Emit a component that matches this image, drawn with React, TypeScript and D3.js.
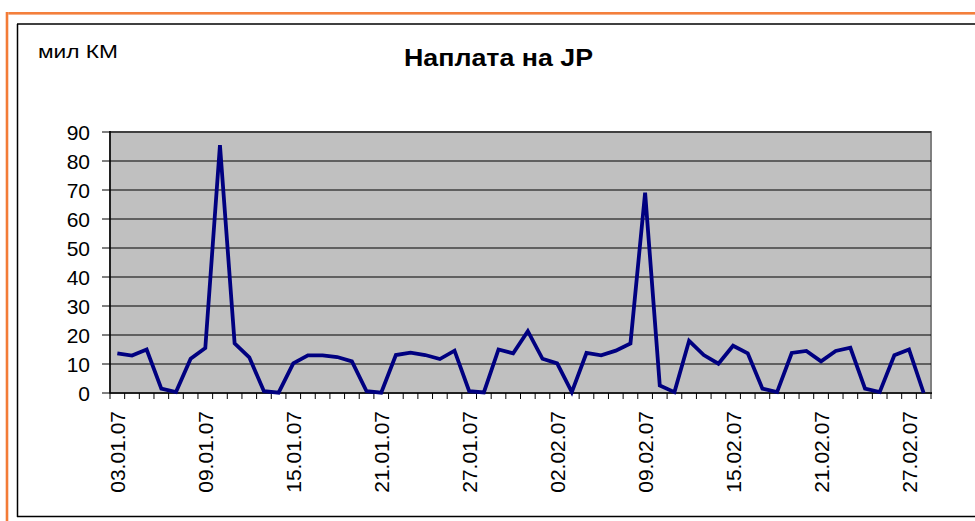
import React from "react";
import * as d3 from "d3";

const dates: string[] = [
  "03.01.07", "04.01.07", "05.01.07", "06.01.07", "07.01.07", "08.01.07",
  "09.01.07", "10.01.07", "11.01.07", "12.01.07", "13.01.07", "14.01.07",
  "15.01.07", "16.01.07", "17.01.07", "18.01.07", "19.01.07", "20.01.07",
  "21.01.07", "22.01.07", "23.01.07", "24.01.07", "25.01.07", "26.01.07",
  "27.01.07", "28.01.07", "29.01.07", "30.01.07", "31.01.07", "01.02.07",
  "02.02.07", "03.02.07", "05.02.07", "06.02.07", "07.02.07", "08.02.07",
  "09.02.07", "10.02.07", "11.02.07", "12.02.07", "13.02.07", "14.02.07",
  "15.02.07", "16.02.07", "17.02.07", "18.02.07", "19.02.07", "20.02.07",
  "21.02.07", "22.02.07", "23.02.07", "24.02.07", "25.02.07", "26.02.07",
  "27.02.07", "28.02.07",
];

const values: number[] = [
  13.7, 12.9, 15.0, 1.5, 0.3, 11.8, 15.5, 85.5, 17.1, 12.3, 0.6, 0.1,
  10.2, 13.0, 13.0, 12.4, 10.9, 0.6, 0.1, 13.1, 13.9, 13.1, 11.7, 14.6,
  0.6, 0.2, 15.0, 13.7, 21.3, 11.8, 10.2, 0.3, 13.8, 13.0, 14.6, 17.1,
  69.1, 2.6, 0.3, 18.0, 13.1, 10.1, 16.3, 13.7, 1.5, 0.3, 13.8, 14.5,
  10.9, 14.5, 15.6, 1.5, 0.3, 13.0, 15.0, 0.0,
];

const yTicks: number[] = [0, 10, 20, 30, 40, 50, 60, 70, 80, 90];
const title = "Наплата на JP";
const yUnit = "мил КМ";

const W = 975;
const H = 521;
const plot = { left: 110, right: 931, top: 132, bottom: 393 };
const font = "'Liberation Sans', Arial, sans-serif";

export default function App() {
  const x = d3
    .scaleBand<string>()
    .domain(dates)
    .range([plot.left, plot.right])
    .padding(0);
  const y = d3.scaleLinear().domain([0, 90]).range([plot.bottom, plot.top]);

  const line = d3
    .line<number>()
    .x((_, i) => (x(dates[i]) as number) + x.bandwidth() / 2)
    .y((d) => y(d));

  const boundaries = d3.range(dates.length + 1).map(
    (i) => plot.left + i * x.bandwidth()
  );

  return (
    <svg
      width={W}
      height={H}
      style={{ position: "absolute", left: 0, top: 0, background: "#fff" }}
      fontFamily={font}
    >
      {/* outer orange frame */}
      <line x1={6} y1={13.5} x2={W} y2={13.5} stroke="#f5b08a" strokeWidth={3} />
      <line x1={6} y1={13} x2={W} y2={13} stroke="#f36f21" strokeWidth={1.6} />
      <line x1={7} y1={12} x2={7} y2={H} stroke="#f5b08a" strokeWidth={3} />
      <line x1={7} y1={12} x2={7} y2={H} stroke="#f36f21" strokeWidth={1.6} />
      {/* inner black frame */}
      <line x1={17} y1={24} x2={W} y2={24} stroke="#000" strokeWidth={1.5} />
      <line x1={17.5} y1={24} x2={17.5} y2={517} stroke="#000" strokeWidth={1.5} />
      <line x1={17} y1={516.5} x2={W} y2={516.5} stroke="#000" strokeWidth={1.5} />

      <text
        x={404}
        y={66}
        fontSize={24}
        fontWeight="bold"
        textLength={189}
        lengthAdjust="spacingAndGlyphs"
      >
        {title}
      </text>
      <text x={38} y={58} fontSize={19} textLength={80} lengthAdjust="spacingAndGlyphs">
        {yUnit}
      </text>

      {/* plot area */}
      <rect
        x={plot.left}
        y={plot.top}
        width={plot.right - plot.left}
        height={plot.bottom - plot.top}
        fill="#c0c0c0"
        stroke="#808080"
        strokeWidth={2}
      />
      {yTicks.map((t) => (
        <g key={t}>
          {t > 0 && (
            <line
              x1={plot.left}
              x2={plot.right}
              y1={y(t)}
              y2={y(t)}
              stroke="#000"
              strokeWidth={1}
            />
          )}
          <line x1={plot.left - 8} x2={plot.left} y1={y(t)} y2={y(t)} stroke="#000" strokeWidth={1} />
          <text
            x={90}
            y={y(t)}
            dy="0.36em"
            textAnchor="end"
            fontSize={21}
          >
            {t}
          </text>
        </g>
      ))}
      <line x1={plot.left} x2={plot.left} y1={plot.top - 1} y2={plot.bottom} stroke="#000" strokeWidth={1.5} />
      <line x1={plot.left} x2={plot.right + 1} y1={plot.bottom} y2={plot.bottom} stroke="#000" strokeWidth={1.5} />
      {boundaries.map((bx, i) => (
        <line key={i} x1={bx} x2={bx} y1={plot.bottom} y2={plot.bottom + 6} stroke="#000" strokeWidth={1} />
      ))}
      {dates.map((d, i) =>
        i % 6 === 0 ? (
          <text
            key={d}
            transform={`translate(${(x(d) as number) + x.bandwidth() / 2},${411}) rotate(-90)`}
            dy="0.36em"
            textAnchor="end"
            fontSize={21}
          >
            {d}
          </text>
        ) : null
      )}

      <path
        d={line(values) as string}
        fill="none"
        stroke="#000080"
        strokeWidth={3.8}
        strokeLinejoin="miter"
      />
    </svg>
  );
}
